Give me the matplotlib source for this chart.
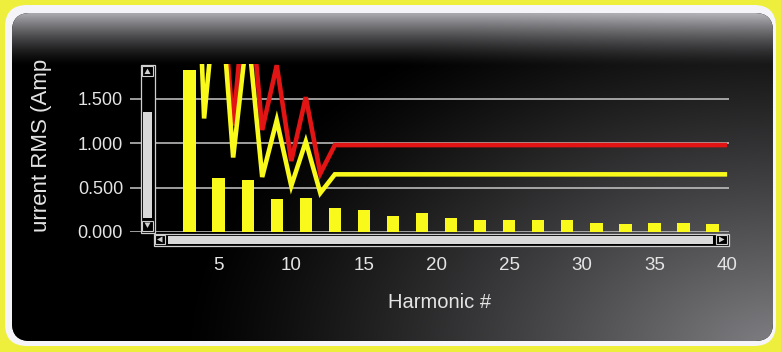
import numpy as np
import matplotlib
matplotlib.use("Agg")
import matplotlib.pyplot as plt
from matplotlib.patches import FancyBboxPatch, Rectangle, Polygon
from matplotlib.transforms import Bbox

plt.rcParams['font.family'] = ['Liberation Sans', 'DejaVu Sans']

# Measured RMS current of the odd harmonics (A)
bar_harmonics = [3, 5, 7, 9, 11, 13, 15, 17, 19, 21, 23, 25, 27, 29, 31, 33, 35, 37, 39]
bar_current = [1.83, 0.61, 0.59, 0.37, 0.38, 0.27, 0.25, 0.18, 0.21, 0.16,
               0.14, 0.13, 0.14, 0.13, 0.105, 0.09, 0.105, 0.105, 0.09]

# Limit curves, one value per harmonic 3..40
limit_harmonics = [3, 4, 5, 6, 7, 8, 9, 10, 11, 12, 13, 14, 15, 16, 17, 18, 19, 20, 21, 22,
                   23, 24, 25, 26, 27, 28, 29, 30, 31, 32, 33, 34, 35, 36, 37, 38, 39, 40]
red_limit = [6.0, 2.3, 3.2, 1.2, 3.0, 1.15, 1.88, 0.80, 1.52, 0.66,
             0.98, 0.98, 0.98, 0.98, 0.98, 0.98, 0.98, 0.98, 0.98, 0.98,
             0.98, 0.98, 0.98, 0.98, 0.98, 0.98, 0.98, 0.98, 0.98, 0.98,
             0.98, 0.98, 0.98, 0.98, 0.98, 0.98, 0.98, 0.98]
yellow_limit = [5.5, 1.28, 3.0, 0.84, 2.3, 0.62, 1.26, 0.52, 1.02, 0.44,
                0.65, 0.65, 0.65, 0.65, 0.65, 0.65, 0.65, 0.65, 0.65, 0.65,
                0.65, 0.65, 0.65, 0.65, 0.65, 0.65, 0.65, 0.65, 0.65, 0.65,
                0.65, 0.65, 0.65, 0.65, 0.65, 0.65, 0.65, 0.65]

x_ticks = [5, 10, 15, 20, 25, 30, 35, 40]
y_ticks = [0.0, 0.5, 1.0, 1.5]

W, H = 781, 352
TXT = '#e4e4e4'
YEL = '#f9f91c'
RED = '#e21414'

fig = plt.figure(figsize=(W / 100, H / 100), dpi=100)
fig.patch.set_facecolor('#eeee3c')

# ---- background card -------------------------------------------------------
bg = fig.add_axes([0, 0, 1, 1])
bg.set_xlim(0, W)
bg.set_ylim(H, 0)
bg.axis('off')
bg.add_patch(FancyBboxPatch((5, 5), W - 10, H - 11,
                            boxstyle='round,pad=0,rounding_size=22',
                            fc='#f5f5f9', ec='none', zorder=0))
panel = FancyBboxPatch((12, 13), 761, 328,
                       boxstyle='round,pad=0,rounding_size=18',
                       fc='black', ec='none', zorder=1)
bg.add_patch(panel)

yy, xx = np.mgrid[0:H, 0:W] + 0.5
t = np.clip((yy - 14) / 52.0, 0, 1)
top = 168 * (1 - t) ** 1.4
r = np.sqrt(((xx - 781) / 600.0) ** 2 + ((yy - 352) / 380.0) ** 2)
glow = 130 * np.clip(1 - r, 0, 1) ** 1.2
val = np.clip(top + glow, 0, 255) / 255.0
rgb = np.dstack([val, val, val * 1.03]).clip(0, 1)
img = bg.imshow(rgb, extent=(0, W, H, 0), interpolation='bilinear',
                aspect='auto', zorder=2)
img.set_clip_path(panel)

# ---- chart ------------------------------------------------------------------
ax = fig.add_axes([130 / W, 1 - 232 / H, 599 / W, 168 / H])
ax.set_facecolor('none')
for s in ax.spines.values():
    s.set_visible(False)
ax.set_xlim(-1.1, 40.13)
ax.set_ylim(0, 1.894)

ax.set_yticks(y_ticks)
ax.set_yticklabels(['%.3f' % v for v in y_ticks])
ax.set_xticks(x_ticks)
ax.set_xticklabels([str(v) for v in x_ticks])
ax.tick_params(axis='both', length=0, colors=TXT)
ax.tick_params(axis='y', pad=5, labelsize=13)
ax.tick_params(axis='x', pad=18, labelsize=13.5)
ax.yaxis.grid(True, color='#c8c8c8', lw=1.1)
ax.set_axisbelow(True)

ax.bar(bar_harmonics, bar_current, width=0.85, color=YEL, zorder=2)
ax.plot(limit_harmonics, red_limit, color=RED, lw=3.3,
        solid_joinstyle='miter', solid_capstyle='butt', zorder=3)
ax.plot(limit_harmonics, yellow_limit, color=YEL, lw=3.3,
        solid_joinstyle='miter', solid_capstyle='butt', zorder=4)

fig.text(440 / W, 1 - 303 / H, 'Harmonic #', color=TXT, fontsize=14.5,
         ha='center', va='center')
ylab = fig.text(42 / W, 1 - 144 / H, 'Current RMS (Amps)', color=TXT,
                fontsize=16, rotation=90, ha='center', va='center')
ylab.set_clip_box(Bbox.from_extents(20, H - 233, 70, H - 60))
ylab.set_clip_on(True)

# ---- scrollbars -------------------------------------------------------------
ov = fig.add_axes([0, 0, 1, 1])
ov.set_xlim(0, W)
ov.set_ylim(H, 0)
ov.axis('off')
EDGE = '#d0d0d0'
THUMB = '#d9d9d9'

# vertical
ov.add_patch(Rectangle((140.5, 64.5), 14, 168, fc='black', ec=EDGE, lw=0.9))
ov.add_patch(Rectangle((142, 66), 11, 10, fc='black', ec=EDGE, lw=0.8))
ov.add_patch(Polygon([(144.5, 74), (150.5, 74), (147.5, 68.5)], fc=EDGE, ec='none'))
ov.add_patch(Rectangle((143, 112), 9, 106, fc=THUMB, ec='none'))
ov.add_patch(Rectangle((142, 220.5), 11, 10, fc='black', ec=EDGE, lw=0.8))
ov.add_patch(Polygon([(144.5, 222.5), (150.5, 222.5), (147.5, 228)], fc=EDGE, ec='none'))

# horizontal
ov.add_patch(Rectangle((153.5, 233.5), 575, 12, fc='black', ec=EDGE, lw=0.9))
ov.add_patch(Rectangle((155, 235), 10, 9, fc='black', ec=EDGE, lw=0.8))
ov.add_patch(Polygon([(162.5, 236.5), (162.5, 242.5), (157, 239.5)], fc=EDGE, ec='none'))
ov.add_patch(Rectangle((168, 235.5), 545, 8, fc=THUMB, ec='none'))
ov.add_patch(Rectangle((716, 235), 11, 9, fc='black', ec=EDGE, lw=0.8))
ov.add_patch(Polygon([(719, 236.5), (719, 242.5), (724.5, 239.5)], fc=EDGE, ec='none'))

fig.savefig('out.png', dpi=100, facecolor=fig.get_facecolor())
